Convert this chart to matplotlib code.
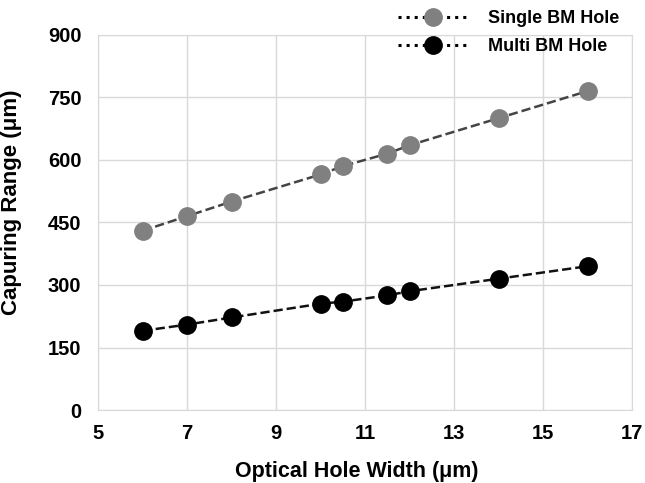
import matplotlib.pyplot as plt
from matplotlib.lines import Line2D

plt.rcParams['font.family'] = ['Liberation Sans', 'DejaVu Sans']
plt.rcParams['font.weight'] = 'bold'

widths = [6, 7, 8, 10, 10.5, 11.5, 12, 14, 16]
single_bm = [430, 465, 500, 565, 585, 615, 635, 700, 765]
multi_bm = [190, 205, 222, 255, 260, 275, 285, 315, 345]
x_ticks = [5, 7, 9, 11, 13, 15, 17]
y_ticks = [0, 150, 300, 450, 600, 750, 900]

fig = plt.figure(figsize=(6.45, 4.83), dpi=100)
ax = fig.add_axes([0.152, 0.151, 0.828, 0.777])

ax.plot(widths, single_bm, linestyle='--', color='#444444', linewidth=1.8,
        marker='o', markersize=12.5, markerfacecolor='#808080', markeredgecolor='#808080', zorder=3)
ax.plot(widths, multi_bm, linestyle='--', color='#111111', linewidth=1.8,
        marker='o', markersize=12.5, markerfacecolor='black', markeredgecolor='black', zorder=3)

ax.set_xlim(5, 17)
ax.set_ylim(0, 900)
ax.set_xticks(x_ticks)
ax.set_yticks(y_ticks)
ax.tick_params(axis='both', length=0, labelsize=14.5)
ax.tick_params(axis='y', pad=12)
ax.tick_params(axis='x', pad=10)
ax.grid(True, color='#d9d9d9', linewidth=1)
ax.set_axisbelow(True)
for side in ['top', 'right', 'bottom', 'left']:
    ax.spines[side].set_color('#d9d9d9')

ax.set_xlabel('Optical Hole Width (μm)', fontsize=15.5, fontweight='bold')
ax.set_ylabel('Capuring Range (μm)', fontsize=16, fontweight='bold')
ax.xaxis.set_label_coords(0.485, -0.135)
ax.yaxis.set_label_coords(-0.143, 0.555)

handles = [
    Line2D([], [], linestyle=':', color='black', linewidth=2.2, marker='o', markersize=12.5,
           markerfacecolor='#808080', markeredgecolor='#808080'),
    Line2D([], [], linestyle=':', color='black', linewidth=2.2, marker='o', markersize=12.5,
           markerfacecolor='black', markeredgecolor='black'),
]
fig.legend(handles, ['Single BM Hole', 'Multi BM Hole'], loc='upper right',
           bbox_to_anchor=(0.985, 1.013), frameon=False,
           prop={'size': 13, 'weight': 'bold'}, handlelength=3.9,
           labelspacing=0.62, handletextpad=1.1)

fig.savefig('out.png', dpi=100)
